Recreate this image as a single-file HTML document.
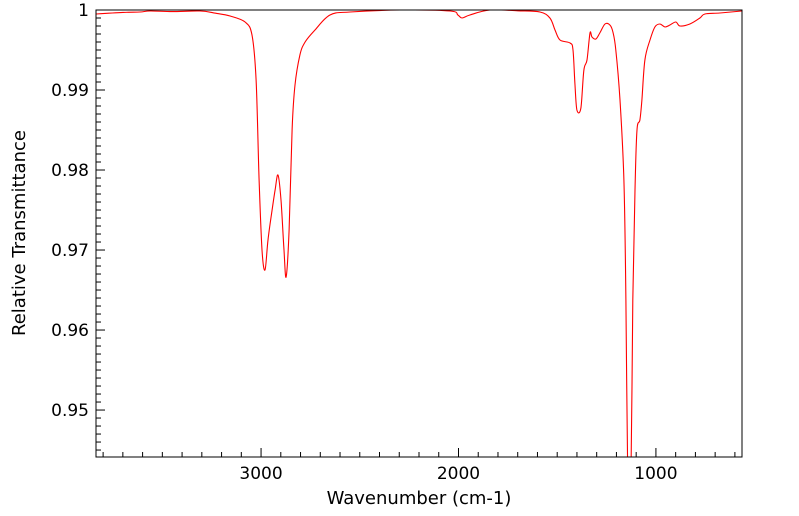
<!DOCTYPE html>
<html><head><meta charset="utf-8"><style>
body{margin:0;background:#fff;}
svg{display:block;font-family:"DejaVu Sans","Liberation Sans",sans-serif;}
</style></head><body>
<svg id="chart" width="799" height="516" viewBox="0 0 799 516">
<defs><clipPath id="clip"><rect x="96" y="10" width="646" height="447"/></clipPath></defs>
<g id="ticks"></g>
<path id="line" clip-path="url(#clip)" fill="none" stroke="#ff0000" stroke-width="1.1"/>
<rect x="96" y="10" width="646" height="447" fill="none" stroke="#000" stroke-width="1"/>
<text x="419" y="504" text-anchor="middle" font-size="18">Wavenumber (cm-1)</text>
<text transform="translate(25,233) rotate(-90)" text-anchor="middle" font-size="18">Relative Transmittance</text>
</svg>
<script>
const wavenumbers=[3835,3700,3613,3562,3450,3309,3230,3157,3081,3046,3025,3010,2995,2980,2965,2944,2929,2914,2899,2884,2873,2858,2843,2828,2803,2777,2727,2651,2549,2296,2043,2003,1982,1942,1841,1700,1587,1537,1511,1486,1435,1420,1410,1400,1380,1365,1349,1334,1324,1304,1284,1258,1233,1218,1203,1182,1162,1152,1142,1127,1117,1106,1096,1081,1071,1056,1030,1005,980,954,929,899,878,828,777,752,676,565];
const transmittance=[0.9995,0.9997,0.99975,0.99988,0.9998,0.99988,0.9996,0.99925,0.9985,0.99688,0.99125,0.97875,0.97,0.9675,0.97125,0.975,0.9775,0.97938,0.97625,0.97,0.96663,0.9725,0.985,0.99063,0.99438,0.996,0.9975,0.99938,0.99975,1.0,0.99988,0.99938,0.999,0.99938,1.0,0.9999,0.99975,0.999,0.9975,0.99625,0.99588,0.995,0.99063,0.9875,0.98775,0.9925,0.99375,0.99713,0.99663,0.99638,0.99713,0.99825,0.99813,0.99725,0.995,0.98875,0.97875,0.96375,0.94,0.94,0.96375,0.9775,0.985,0.98625,0.98875,0.99375,0.99625,0.99788,0.99825,0.99788,0.99813,0.9985,0.998,0.99825,0.999,0.9995,0.99963,0.99988];
const xTickLabels=[3000,2000,1000];
const yTickLabels=[0.95,0.96,0.97,0.98,0.99,1];
const X0=96,X1=742,Y0=10,Y1=457;
const xMax=3836,xMin=564,yMin=0.94413,yMax=1;
const sx=v=>X0+(xMax-v)/(xMax-xMin)*(X1-X0);
const sy=v=>Y0+(yMax-v)/(yMax-yMin)*(Y1-Y0);
const ns="http://www.w3.org/2000/svg";
const P=wavenumbers.map((w,i)=>[sx(w),sy(transmittance[i])]);
let d="M"+P[0][0].toFixed(1)+","+P[0][1].toFixed(1);
const t=0.25;
for(let i=0;i<P.length-1;i++){const p0=P[Math.max(0,i-1)],p1=P[i],p2=P[i+1],p3=P[Math.min(P.length-1,i+2)];
const c1=[p1[0]+(p2[0]-p0[0])*t/1.5,p1[1]+(p2[1]-p0[1])*t/1.5],c2=[p2[0]-(p3[0]-p1[0])*t/1.5,p2[1]-(p3[1]-p1[1])*t/1.5];
d+="C"+c1.map(v=>v.toFixed(1)).join(",")+" "+c2.map(v=>v.toFixed(1)).join(",")+" "+p2.map(v=>v.toFixed(1)).join(",");}
document.getElementById("line").setAttribute("d",d);
const g=document.getElementById("ticks");
function ln(x1,y1,x2,y2){const l=document.createElementNS(ns,"line");


l.setAttribute("x1",x1);l.setAttribute("y1",y1);l.setAttribute("x2",x2);l.setAttribute("y2",y2);l.setAttribute("stroke","#000");g.appendChild(l);}
function tx(x,y,s,a,name){const e=document.createElementNS(ns,"text");


e.setAttribute("x",x);e.setAttribute("y",y);e.setAttribute("text-anchor",a);e.setAttribute("font-size","17");e.textContent=s;g.appendChild(e);}
for(let w=3800;w>=600;w-=100){const x=sx(w);ln(x,Y1,x,Y1-(w%1000===0?9:5));}
xTickLabels.forEach(w=>tx(sx(w),Y1+22,String(w),"middle","x-tick-label"));
for(let k=945;k<=1000;k++){const v=k/1000,y=sy(v);ln(X0,y,X0+(k%10===0?9:5),y);}
yTickLabels.forEach(v=>tx(X0-7,sy(v)+6,String(v),"end","y-tick-label"));
</script>
</body></html>
